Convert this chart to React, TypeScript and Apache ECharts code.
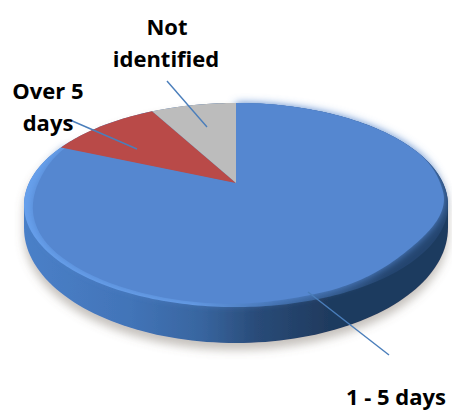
import React, { useEffect, useRef } from "react";
import * as echarts from "echarts";

const categories = ["1 - 5 days", "Over 5 days", "Not identified"];
const shares = [81.5, 10.5, 8];

const CX = 236, AY = 183, A = 207, B = 97.3, C = 0.2157;
const project = (theta: number, s: number) => {
  const u = Math.sin(theta) * s, v = -Math.cos(theta) * s, w = 1 - C * v;
  return [CX + (A * u) / w, AY + (B * v) / w];
};
const insetTable: [number, number][] = [
  [0, 1], [70, 1], [95, 0.985], [130, 0.94], [160, 0.965], [185, 0.98], [230, 0.975], [270, 0.955], [300, 0.98], [330, 1], [360, 1],
];
const inset = (theta: number) => {
  const d = (theta * 180) / Math.PI;
  for (let i = 1; i < insetTable.length; i++) {
    if (d <= insetTable[i][0]) {
      const [d0, s0] = insetTable[i - 1], [d1, s1] = insetTable[i];
      const t = (d - d0) / (d1 - d0), k = t * t * (3 - 2 * t);
      return s0 + (s1 - s0) * k;
    }
  }
  return 1;
};
const wedge = (a0: number, a1: number, useInset: boolean) => {
  const pts = [[CX, AY]];
  const n = Math.max(2, Math.ceil((a1 - a0) / 0.02));
  for (let i = 0; i <= n; i++) {
    const t = a0 + ((a1 - a0) * i) / n;
    pts.push(project(t, useInset ? inset(t) : 1));
  }
  return pts;
};
const wallPoints = () => {
  const pts: number[][] = [];
  for (let d = 180; d <= 360; d += 2) {
    const t = (d * Math.PI) / 180;
    pts.push([CX + 212 * Math.cos(t), 205 + 102 * Math.sin(t)]);
  }
  for (let d = 0; d <= 180; d += 2) {
    const t = (d * Math.PI) / 180;
    pts.push([CX + 212 * Math.cos(t), 228 + 115 * Math.sin(t)]);
  }
  return pts;
};
const H = (stops: [number, string][]) =>
  new echarts.graphic.LinearGradient(0, 0, 1, 0, stops.map(([offset, color]) => ({ offset, color })));

const sliceColors = ["#5587d0", "#b94a48", "#bcbcbc"];
const LINE = "#4a7ebb";
const FONT = "'Open Sans'";

const renderItem = (params: any, api: any) => {
  const i = params.dataIndex;
  const total = shares.reduce((a, b) => a + b, 0);
  const before = shares.slice(0, i).reduce((a, b) => a + b, 0);
  const a0 = (before / total) * 2 * Math.PI;
  const a1 = ((before + api.value(0)) / total) * 2 * Math.PI;
  if (i !== 0) {
    return {
      type: "polygon",
      shape: { points: wedge(a0, a1, false) },
      style: { fill: sliceColors[i] },
    };
  }
  return {
    type: "group",
    children: [
      {
        type: "polygon",
        shape: { points: wallPoints() },
        style: {
          fill: H([
            [0, "#4a80c8"],
            [0.25, "#4274b8"],
            [0.42, "#38659f"],
            [0.55, "#294b78"],
            [0.72, "#1f3a5e"],
            [1, "#1f3a5e"],
          ]),
          shadowBlur: 10,
          shadowOffsetY: 7,
          shadowColor: "rgba(110,100,90,0.4)",
        },
      },
      {
        type: "polygon",
        shape: { points: wedge(a0, a1, false) },
        style: {
          fill: H([
            [0, "#67a0ec"],
            [0.4, "#68a0ea"],
            [0.6, "#3f6ca8"],
            [0.85, "#24456f"],
            [1, "#24456f"],
          ]),
        },
      },
      {
        type: "polygon",
        shape: { points: wedge(a0, a1, true) },
        style: { fill: sliceColors[0], shadowBlur: 8, shadowColor: sliceColors[0] },
      },
    ],
  };
};

const leader = (x1: number, y1: number, x2: number, y2: number) => ({
  type: "line",
  z: 10,
  shape: { x1, y1, x2, y2 },
  style: { stroke: LINE, lineWidth: 1.4 },
});
const label = (text: string, x: number, y: number) => ({
  type: "text",
  z: 11,
  x,
  y,
  style: {
    text,
    fill: "#000",
    font: `bold 22px ${FONT}`,
    textAlign: "center",
    textVerticalAlign: "middle",
  },
});

export default function App() {
  const ref = useRef<HTMLDivElement>(null);
  useEffect(() => {
    const chart = echarts.init(ref.current!, undefined, { renderer: "svg" });
    chart.setOption({
      animation: false,
      backgroundColor: "#fff",
      series: [
        {
          type: "custom",
          coordinateSystem: "none",
          silent: true,
          data: shares.map((value, i) => ({ name: categories[i], value })),
          renderItem,
        },
      ],
      graphic: [
        leader(167, 81, 207, 127),
        leader(70, 120, 137, 149),
        leader(308, 292, 389, 355),
        label("Not", 167, 26),
        label("identified", 166, 58),
        label("Over 5", 48, 90),
        label("days", 48, 122),
        label("1 - 5 days", 396, 396),
      ],
    });
    return () => chart.dispose();
  }, []);
  return <div ref={ref} style={{ position: "absolute", left: 0, top: 0, width: 452, height: 411 }} />;
}
